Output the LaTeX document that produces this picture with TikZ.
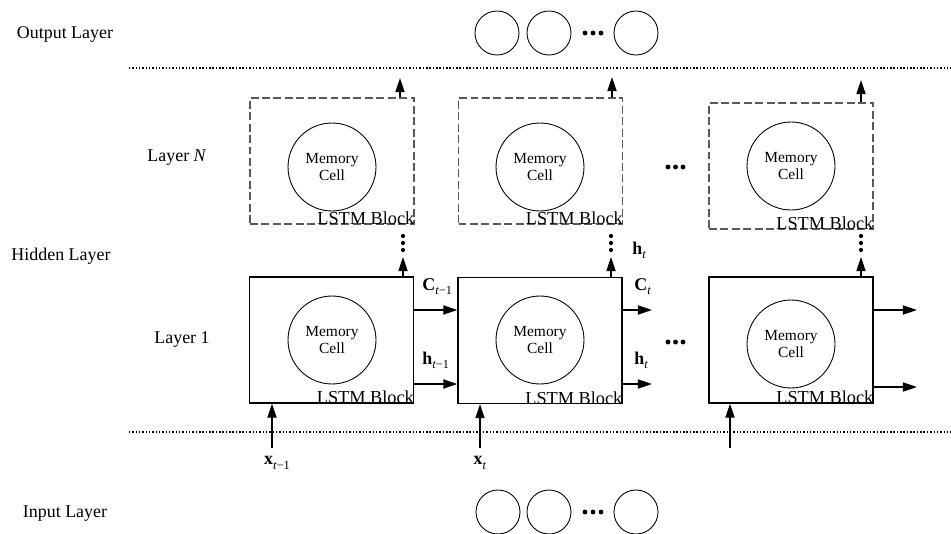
\documentclass[tikz,border=0pt]{standalone}
\usepackage{amsmath}
\usepackage{fontspec}
\setmainfont{Liberation Serif}
\usepackage{tikz}
\usetikzlibrary{arrows.meta}

% bold state letter with a small lowered time index
\newcommand{\lstmvar}[2]{\textbf{#1}\raisebox{-0.5ex}{\fontsize{7}{8}\selectfont\textit{t}#2}}

\begin{document}
\begin{tikzpicture}[x=0.02cm, y=-0.02cm,
    block/.style={draw, line width=0.8pt, minimum width=3.28cm, minimum height=2.52cm, inner sep=0pt},
    dblock/.style={block, draw=black!65, dash pattern=on 4.5pt off 2pt},
    cell/.style={circle, draw, line width=0.5pt, minimum size=1.76cm, inner sep=0pt, align=center, font=\fontsize{8.8}{10.2}\selectfont},
    unit/.style={circle, draw, line width=0.5pt, minimum size=0.88cm, inner sep=0pt},
    tag/.style={anchor=base east, inner sep=0pt, font=\fontsize{10.4}{12}\selectfont},
    arr/.style={-{Triangle[length=8pt, width=5.2pt]}, line width=0.8pt},
    sep/.style={line width=0.6pt, dash pattern=on 0.8pt off 1.1pt},
    lab/.style={inner sep=0pt, font=\fontsize{10.2}{12}\selectfont}]
      \useasboundingbox (0,0) rectangle (951,534);

      % Layer names
      \node[lab] (outname) at (65,35) {Output Layer};
      \node[lab] (lnname) at (177,158) {Layer \textit{N}};
      \node[lab] (hidname) at (61,256) {Hidden Layer};
      \node[lab] (l1name) at (182,340) {Layer 1};
      \node[lab] (inname) at (65,514) {Input Layer};

      % Separators
      \draw[sep] (129,68) -- (951,68);
      \draw[sep] (129,432) -- (951,432);

      % Output and input units
      \node[unit] (o1) at (497,33) {};
      \node[unit] (o2) at (549,33) {};
      \node[unit] (o3) at (636,33) {};
      \node[unit] (i1) at (498,512) {};
      \node[unit] (i2) at (549,512) {};
      \node[unit] (i3) at (636,512) {};
      \foreach \x in {585,593,601} {
        \fill (\x,33) circle[radius=1.4pt];
        \fill (\x,512) circle[radius=1.4pt];
      }

      % Layer N blocks
      \node[dblock] (n1) at (332,161) {};
      \node[dblock] (n2) at (540.5,161) {};
      \node[dblock] (n3) at (791,166) {};
      \node[cell] (mn1) at (332,167) {Memory\\Cell};
      \node[cell] (mn2) at (540,167) {Memory\\Cell};
      \node[cell] (mn3) at (791,166) {Memory\\Cell};
      \node[tag] (tn1) at (n1.south east) {LSTM Block};
      \node[tag] (tn2) at (n2.south east) {LSTM Block};
      \node[tag] (tn3) at (n3.south east) {LSTM Block};

      % Layer 1 blocks
      \node[block] (b1) at (331.5,340) {};
      \node[block] (b2) at (540,340.5) {};
      \node[block] (b3) at (791,340) {};
      \node[cell] (m1) at (332,340) {Memory\\Cell};
      \node[cell] (m2) at (540,340) {Memory\\Cell};
      \node[cell] (m3) at (791,344) {Memory\\Cell};
      \node[tag] (t1) at (b1.south east) {LSTM Block};
      \node[tag] (t2) at (b2.south east) {LSTM Block};
      \node[tag] (t3) at (b3.south east) {LSTM Block};

      % Gaps between blocks
      \foreach \x in {668,675.5,683} {
        \fill (\x,167) circle[radius=1.4pt];
        \fill (\x,342) circle[radius=1.4pt];
      }

      % Recurrent connections
      \coordinate (rowC) at (0,310);
      \coordinate (rowH) at (0,384);
      \coordinate (rowC3) at (0,310);
      \coordinate (rowH3) at (0,387);
      \coordinate (c2out) at (652,310);
      \coordinate (h2out) at (652,384);
      \coordinate (c3out) at (917,310);
      \coordinate (h3out) at (917,387);
      \draw[arr] (b1.east |- rowC) -- (b2.west |- rowC);
      \draw[arr] (b1.east |- rowH) -- (b2.west |- rowH);
      \draw[arr] (b2.east |- rowC) -- (c2out);
      \draw[arr] (b2.east |- rowH) -- (h2out);
      \draw[arr] (b3.east |- rowC3) -- (c3out);
      \draw[arr] (b3.east |- rowH3) -- (h3out);
      \node[lab, anchor=west] (cl1) at (422,287) {\lstmvar{C}{−1}};
      \node[lab, anchor=west] (hl1) at (422,360) {\lstmvar{h}{−1}};
      \node[lab, anchor=west] (cl2) at (634,287) {\lstmvar{C}{}};
      \node[lab, anchor=west] (hl2) at (634,360) {\lstmvar{h}{}};

      % Upward connections
      \coordinate (u1) at (403,257);
      \coordinate (u2) at (611,257);
      \coordinate (u3) at (861,257);
      \coordinate (v1) at (400,78);
      \coordinate (v2) at (612,77);
      \coordinate (v3) at (861,80);
      \draw[arr] (b1.north -| u1) -- (u1);
      \draw[arr] (b2.north -| u2) -- (u2);
      \draw[arr] (b3.north -| u3) -- (u3);
      \draw[arr] (n1.north -| v1) -- (v1);
      \draw[arr] (n2.north -| v2) -- (v2);
      \draw[arr] (n3.north -| v3) -- (v3);
      \foreach \x in {403,611,861} {
        \foreach \y in {236,243,250} {
          \fill (\x,\y) circle[radius=1.2pt];
        }
      }
      \node[lab, anchor=west] (hup) at (632,250) {\lstmvar{h}{}};

      % Inputs
      \coordinate (x1) at (272,448);
      \coordinate (x2) at (480,448);
      \coordinate (x3) at (730,448);
      \draw[arr] (x1) -- (b1.south -| x1);
      \draw[arr] (x2) -- (b2.south -| x2);
      \draw[arr] (x3) -- (b3.south -| x3);
      \node[lab] (xl1) at (277,463) {\lstmvar{x}{−1}};
      \node[lab] (xl2) at (480,463) {\lstmvar{x}{}};
  \end{tikzpicture}
\end{document}
